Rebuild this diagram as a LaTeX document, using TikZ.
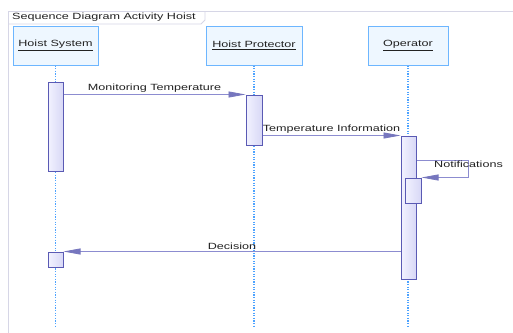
\documentclass[tikz,border=0pt]{standalone}
\usepackage{fontspec}
\newfontfamily\diagfont[FakeStretch=1.4]{Liberation Sans}
\usetikzlibrary{arrows.meta}

\definecolor{framegray}{HTML}{D6D6E6}
\definecolor{headfill}{HTML}{EEF7FF}
\definecolor{headline}{HTML}{6DB6FF}
\definecolor{lifeblue}{HTML}{4DA3FF}
\definecolor{barline}{HTML}{5A5AB4}
\definecolor{barlight}{HTML}{F2F2FF}
\definecolor{bardark}{HTML}{D8D8F6}
\definecolor{msgline}{HTML}{8C8CD0}
\definecolor{tipfill}{HTML}{7676BE}
\definecolor{txtgray}{HTML}{222222}

\begin{document}
\begin{tikzpicture}[
            x = 1pt, y = -1pt,
            every node/.style={font=\diagfont\fontsize{9}{10}\selectfont, text=txtgray},
            head/.style={draw=headline, fill=headfill, line width=1pt, minimum height=39pt, inner sep=0pt},
            lifeline/.style={draw=lifeblue, line width=1.2pt, dash pattern=on 1.2pt off 1.4pt},
            bar/.style={draw=barline, line width=1pt, left color=barlight, right color=bardark, minimum width=15pt, inner sep=0pt},
            msg/.style={draw=msgline, line width=.8pt, -{Triangle[length=17pt, width=6pt, fill=tipfill, color=tipfill]}},
            lbl/.style={inner sep=1.5pt},
            ]

        \clip (0,0) rectangle (513,332);
        \fill[white] (0,0) rectangle (513,332);

        % frame with title tab
        \draw[framegray, line width=1pt] (8,340) -- (8,11) -- (520,11);
        \draw[framegray, line width=.8pt] (8,24) -- (201,24) -- (205,20) -- (205,11);
        \node[anchor=west, inner sep=0pt] (title) at (12,17.5) {Sequence Diagram Activity Hoist};

        % heads and lifelines
        \foreach \name/\x/\w/\txt in {hs/55.5/85/Hoist System, hp/254/96/Hoist Protector, op/408/80/Operator} {
            \node[head, minimum width=\w pt] (\name) at (\x,45.5) {\underline{\txt}};
            \coordinate (\name end) at (\x,327);
            \draw[lifeline] (\name.south) -- (\name end);
        }

        % activation bars
        \node[bar, minimum height=89pt] (hsA) at (55.5,126.5) {};
        \node[bar, minimum height=15pt] (hsB) at (55.5,259.5) {};
        \node[bar, minimum width=16pt, minimum height=50pt] (hpA) at (254,120) {};
        \node[bar, minimum height=143pt] (opA) at (408.5,207.5) {};
        \node[bar, minimum width=16pt, minimum height=25pt] (opB) at (413,190.5) {};

        % messages
        \draw[msg] (hsA.east |- hpA.north) -- node[lbl, above] {Monitoring Temperature} (hpA.north west);
        \draw[msg] (hpA.east |- opA.north) -- node[lbl, above] {Temperature Information} (opA.north west);
        \draw[msg] ([yshift=-25pt]opA.north east) -- ++(52,0) node[anchor=north, inner sep=.5pt] {Notifications} |- (opB.north east);
        \draw[msg] (opA.west |- hsB.north) -- node[lbl, above] {Decision} (hsB.north east);
    \end{tikzpicture}
\end{document}
